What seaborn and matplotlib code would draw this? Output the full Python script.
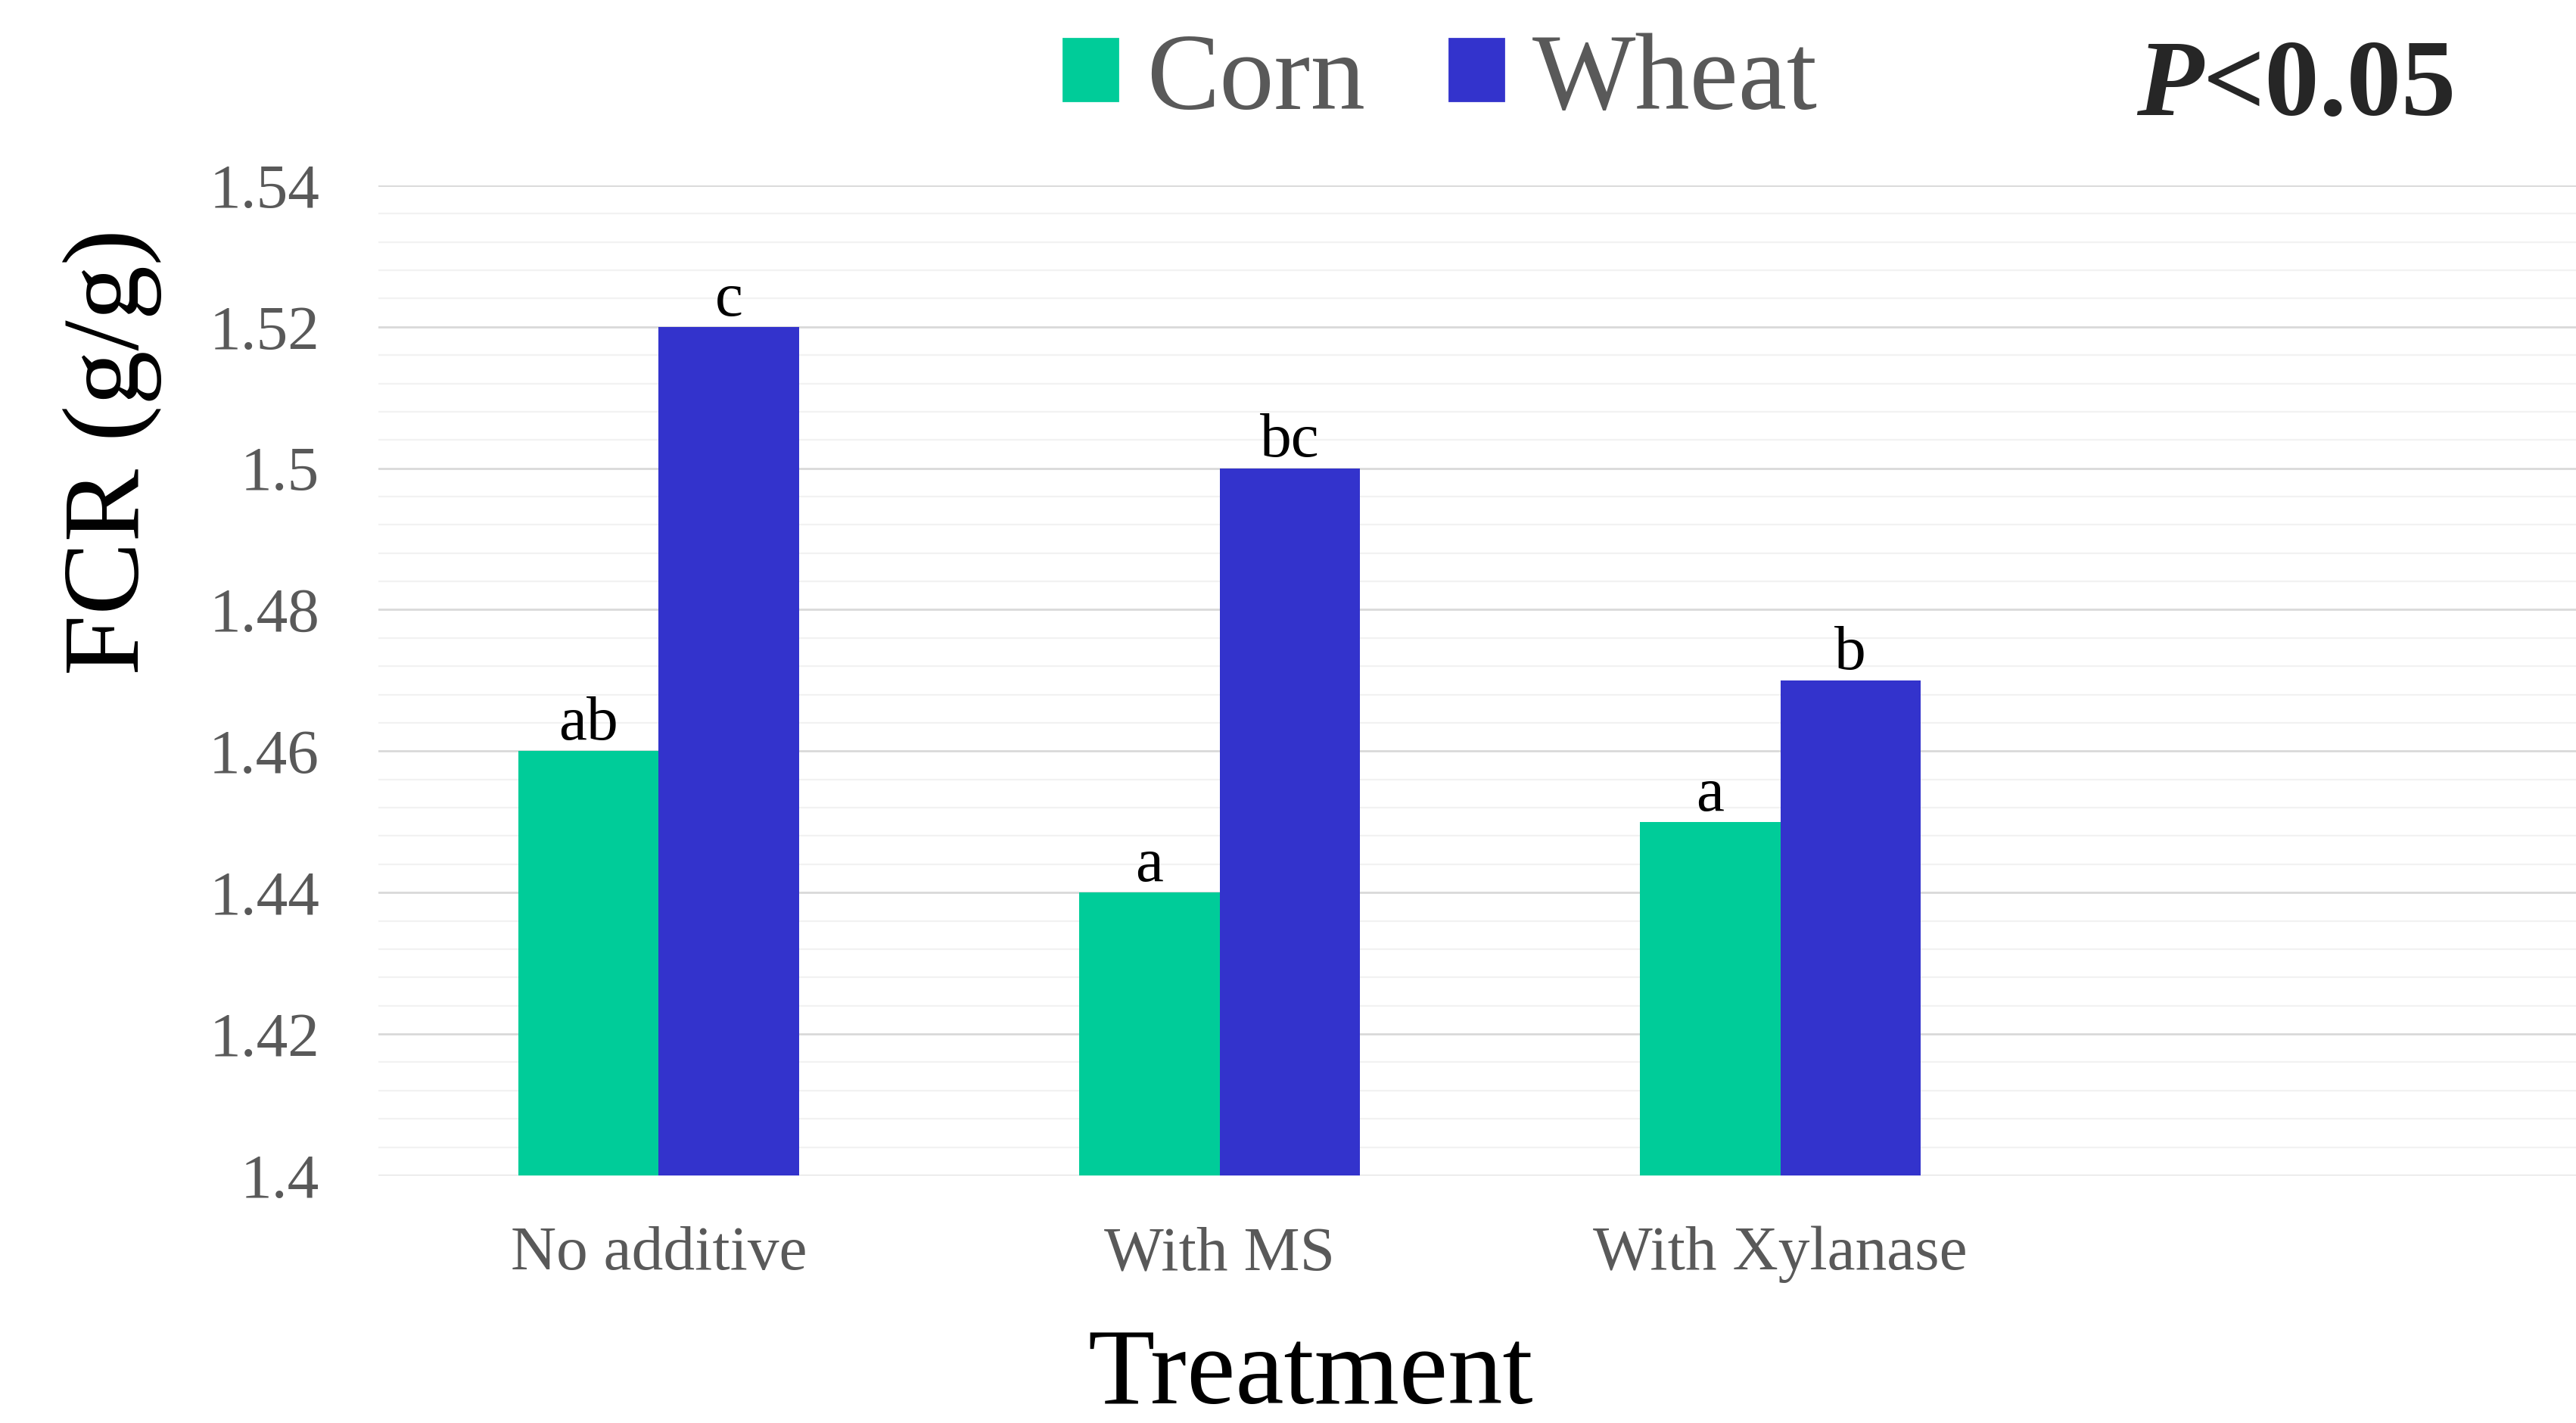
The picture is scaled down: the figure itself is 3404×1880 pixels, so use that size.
import matplotlib.patches as mpatches
import matplotlib.pyplot as plt
import matplotlib.ticker as mticker
import pandas as pd
import seaborn as sns

# values
treatments = ["No additive", "With MS", "With Xylanase"]
grains = ["Corn", "Wheat"]
corn_fcr = [1.46, 1.44, 1.45]
wheat_fcr = [1.52, 1.50, 1.47]
corn_letters = ["ab", "a", "a"]
wheat_letters = ["c", "bc", "b"]
y_ticks = [1.40, 1.42, 1.44, 1.46, 1.48, 1.50, 1.52, 1.54]

GRAIN_COLORS = {
    "Corn":  "#00CC99",
    "Wheat": "#3333CC",
}
TICK_GREY = "#595959"

df = pd.DataFrame({
    "Treatment": treatments * 2,
    "Grain": ["Corn"] * len(treatments) + ["Wheat"] * len(treatments),
    "FCR": corn_fcr + wheat_fcr,
})

sns.set_style("white")
plt.rcParams["font.family"] = ["Liberation Serif", "DejaVu Serif"]

fig = plt.figure(figsize=(17.025, 9.4), dpi=200)
ax = fig.add_axes([0.1468, 0.174, 0.8532, 0.6957])

sns.barplot(
    data=df, x="Treatment", y="FCR", hue="Grain",
    order=treatments, hue_order=grains, palette=GRAIN_COLORS,
    width=0.5, saturation=1, legend=False, linewidth=0, ax=ax, zorder=3,
)

for container, letters in zip(ax.containers, [corn_letters, wheat_letters]):
    ax.bar_label(container, labels=letters, padding=-1, fontsize=30, color="black")

ax.set_ylim(1.40, 1.54)
ax.set_xlim(-0.5, 3.42)
ax.set_yticks(y_ticks)
ax.yaxis.set_minor_locator(mticker.MultipleLocator(0.004))
ax.yaxis.set_major_formatter(mticker.FuncFormatter(lambda v, _: f"{v:g}"))
ax.set_axisbelow(True)
ax.grid(axis="y", which="major", color="#d9d9d9", linewidth=1.0, zorder=0)
ax.grid(axis="y", which="minor", color="#f2f2f2", linewidth=0.8, zorder=0)
ax.grid(axis="x", visible=False)
ax.tick_params(axis="both", which="both", length=0, labelsize=30, labelcolor=TICK_GREY)
ax.tick_params(axis="y", pad=28)
ax.tick_params(axis="x", pad=24)
sns.despine(ax=ax, left=True, bottom=True)

ax.set_ylabel("FCR (g/g)", fontsize=52, color="black")
ax.yaxis.set_label_coords(-0.121, 0.731)
ax.set_xlabel("Treatment", fontsize=52, color="black")
ax.xaxis.set_label_coords(0.424, -0.204)
ax.xaxis.label.set_va("center")
ax.yaxis.label.set_va("center")

patches = [mpatches.Patch(color=GRAIN_COLORS[g], label=g) for g in grains]
leg = fig.legend(
    handles=patches, loc="center left", bbox_to_anchor=(0.4127, 0.942),
    ncol=2, frameon=False, fontsize=52, borderpad=0, borderaxespad=0,
    handlelength=0.5, handleheight=0.5, handletextpad=0.26, columnspacing=0.77,
)
for txt in leg.get_texts():
    txt.set_color(TICK_GREY)

p_txt = fig.text(0.829, 0.919, "P", fontsize=52, fontweight="bold",
                 fontstyle="italic", va="baseline", ha="left")
ax.annotate("<0.05", xy=(1, 0), xycoords=p_txt, fontsize=52,
            fontweight="bold", va="bottom", ha="left")

fig.savefig("out.png", dpi=200)
